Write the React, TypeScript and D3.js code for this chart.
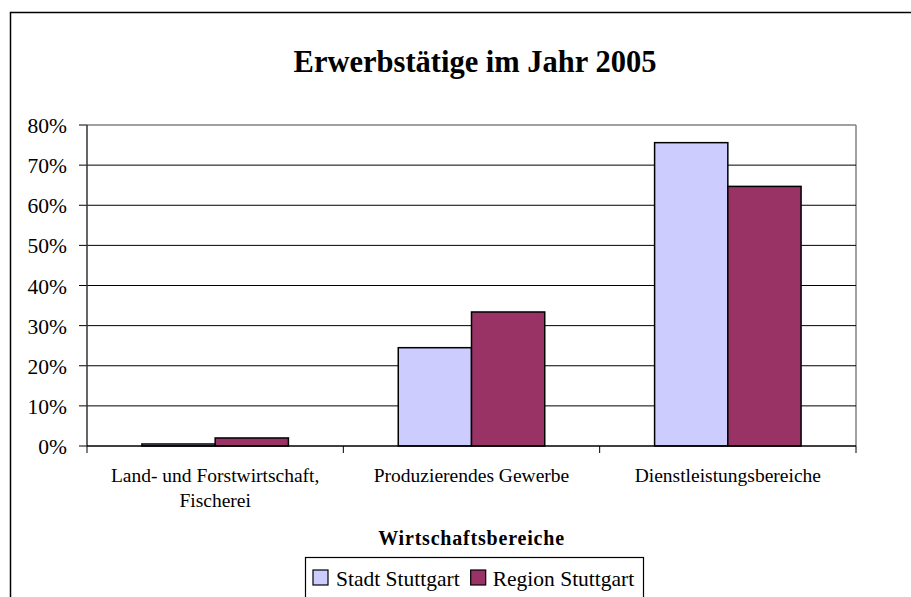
import React from "react";
import * as d3 from "d3";

const categories: string[][] = [
  ["Land- und Forstwirtschaft,", "Fischerei"],
  ["Produzierendes Gewerbe"],
  ["Dienstleistungsbereiche"],
];
const categoryKeys = ["Land", "Prod", "Dienst"];
const seriesNames = ["Stadt Stuttgart", "Region Stuttgart"];
const stadtValues = [0.5, 24.5, 75.6];
const regionValues = [2.0, 33.4, 64.7];
const seriesColors = ["#CCCCFF", "#993366"];
const yTicks = [0, 10, 20, 30, 40, 50, 60, 70, 80];
const titleText = "Erwerbstätige im Jahr 2005";
const xAxisTitle = "Wirtschaftsbereiche";

const W = 911;
const H = 597;
const plot = { left: 87, right: 856, top: 125, bottom: 446 };
const FONT = "'Liberation Serif', 'Times New Roman', Times, serif";
const tStyle = { fontFamily: FONT };

export default function App() {
  const x = d3
    .scaleBand<string>()
    .domain(categoryKeys)
    .range([plot.left, plot.right])
    .paddingInner(0)
    .paddingOuter(0);
  const y = d3.scaleLinear().domain([0, 80]).range([plot.bottom, plot.top]);
  const step = x.step();
  const bw = step / 3.5;
  const off = (step - 2 * bw) / 2;
  const series = [stadtValues, regionValues];

  return (
    <div style={{ position: "fixed", left: 0, top: 0, width: W, height: H, background: "#fff" }}>
      <svg width={W} height={H} style={{ display: "block", fontFamily: FONT }}>
        <rect x={0} y={0} width={W} height={H} fill="#fff" />
        <rect x={10.5} y={12.5} width={1000} height={700} fill="none" stroke="#000" strokeWidth={1.5} />
        <text x={475} y={72} textAnchor="middle" fontSize={30.5} fontWeight="bold" fill="#000" style={tStyle}>
          {titleText}
        </text>
        <line x1={plot.left} x2={plot.right} y1={plot.top} y2={plot.top} stroke="#808080" strokeWidth={1.5} />
        <line x1={plot.right} x2={plot.right} y1={plot.top} y2={plot.bottom} stroke="#808080" strokeWidth={1.5} />
        {yTicks.slice(1, -1).map((t) => (
          <line key={"g" + t} x1={plot.left} x2={plot.right} y1={y(t)} y2={y(t)} stroke="#000" strokeWidth={1} />
        ))}
        {yTicks.map((t) => (
          <g key={"t" + t}>
            <line x1={plot.left - 8} x2={plot.left} y1={y(t)} y2={y(t)} stroke="#000" strokeWidth={1} />
            <text x={67} y={y(t) + 8} textAnchor="end" fontSize={21.5} fill="#000" style={tStyle}>
              {t + "%"}
            </text>
          </g>
        ))}
        {categoryKeys.map((c, i) =>
          series.map((vals, s) => {
            const x0 = (x(c) as number) + off + s * bw;
            const yt = y(vals[i]);
            return (
              <rect key={c + s} x={x0} y={yt} width={bw} height={plot.bottom - yt}
                fill={seriesColors[s]} stroke="#000" strokeWidth={1.5} />
            );
          })
        )}
        <line x1={plot.left} x2={plot.left} y1={plot.top} y2={plot.bottom} stroke="#333" strokeWidth={1.5} />
        <line x1={plot.left} x2={plot.right} y1={plot.bottom} y2={plot.bottom} stroke="#000" strokeWidth={1.5} />
        {categoryKeys.map((c) => (
          <line key={"xt" + c} x1={x(c) as number} x2={x(c) as number} y1={plot.bottom} y2={plot.bottom + 7} stroke="#000" strokeWidth={1} />
        ))}
        <line x1={plot.right} x2={plot.right} y1={plot.bottom} y2={plot.bottom + 7} stroke="#000" strokeWidth={1} />
        {categoryKeys.map((c, i) => (
          <text key={"cl" + c} textAnchor="middle" fontSize={19.5} fill="#000" style={tStyle}>
            {categories[i].map((line, j) => (
              <tspan key={j} x={(x(c) as number) + step / 2} y={482 + j * 25}>{line}</tspan>
            ))}
          </text>
        ))}
        <text x={471.5} y={545} textAnchor="middle" fontSize={20} fontWeight="bold" letterSpacing={0.8} fill="#000" style={tStyle}>
          {xAxisTitle}
        </text>
        <rect x={305.5} y={557.5} width={338} height={60} fill="#fff" stroke="#000" strokeWidth={1.2} />
        <rect x={313} y={570} width={15} height={15} fill={seriesColors[0]} stroke="#000" strokeWidth={1.2} />
        <text x={336} y={586} fontSize={21.5} fill="#000" style={tStyle}>{seriesNames[0]}</text>
        <rect x={470.7} y={570} width={15} height={15} fill={seriesColors[1]} stroke="#000" strokeWidth={1.2} />
        <text x={492.7} y={586} fontSize={21.5} fill="#000" style={tStyle}>{seriesNames[1]}</text>
      </svg>
    </div>
  );
}
